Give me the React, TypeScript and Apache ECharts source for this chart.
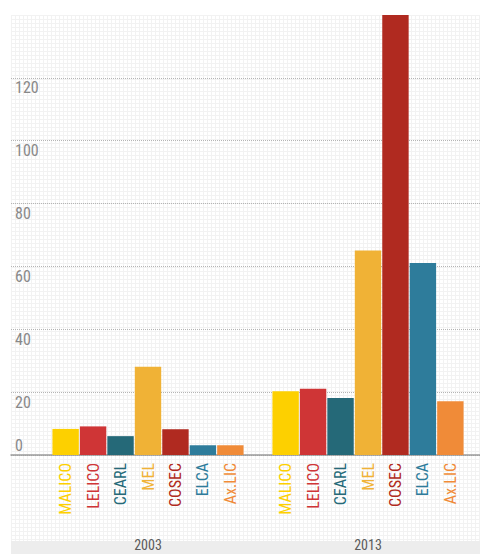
import React, { useEffect, useRef } from "react";
import * as echarts from "echarts";

const years = ["2003", "2013"];
const seriesNames = ["MALICO", "LELICO", "CEARL", "MEL", "COSEC", "ELCA", "Ax.LIC"];
const seriesColors = ["#FDD000", "#CF3536", "#256978", "#F0B236", "#B02A20", "#2E7C9B", "#F08B38"];
const malico = [8.3, 20.3];
const lelico = [9.1, 21.1];
const cearl = [6.0, 18.1];
const mel = [28.1, 65.1];
const cosec = [8.2, 140];
const elca = [3.1, 61.1];
const axlic = [3.1, 17.1];
const seriesValues = [malico, lelico, cearl, mel, cosec, elca, axlic];
const yTicksMax = 120;
const yMax = 140;

const FONT = '"Liberation Sans Narrow", "Roboto Condensed", "DejaVu Sans Condensed", sans-serif';

export default function App() {
  const ref = useRef<HTMLDivElement>(null);
  useEffect(() => {
    if (!ref.current) return;
    const chart = echarts.init(ref.current, null, { renderer: "svg" });
    const baseY = 455;
    const topY = 15;
    const unit = (baseY - topY) / yMax;
    const grid0Top = baseY - yTicksMax * unit;
    chart.setOption({
      animation: false,
      backgroundColor: "transparent",
      graphic: [
        {
          type: "rect",
          shape: { x: 11, y: 541, width: 469, height: 13 },
          style: { fill: "#ededed" },
          z: -1,
        },
      ],
      grid: [
        { left: 11, width: 469, top: grid0Top, height: baseY - grid0Top, outerBoundsMode: "none", containLabel: false },
        { left: 38, width: 440, top: topY, height: baseY - topY, outerBoundsMode: "none", containLabel: false },
      ],
      xAxis: [
        {
          type: "value",
          gridIndex: 0,
          min: 0,
          max: 1,
          axisLine: { show: true, onZero: false, lineStyle: { color: "#9a9a9a", width: 1.5 } },
          axisTick: { show: false },
          axisLabel: { show: false },
          splitLine: { show: false },
        },
        {
          type: "category",
          gridIndex: 1,
          data: years,
          axisLine: { show: false },
          axisTick: { show: false },
          axisLabel: { margin: 83, fontSize: 14, lineHeight: 14, color: "#5a5a5a", fontFamily: FONT },
        },
      ],
      yAxis: [
        {
          type: "value",
          gridIndex: 0,
          min: 0,
          max: yTicksMax,
          interval: 20,
          axisLine: { show: false },
          axisTick: { show: false },
          splitLine: { show: true, lineStyle: { color: "#b5b5b5", type: "dotted", width: 1 } },
          axisLabel: {
            inside: true,
            margin: 4,
            verticalAlign: "middle",
            showMaxLabel: true,
            showMinLabel: true,
            formatter: (v: number) => (v === 0 ? "{z|0}" : "{t|" + v + "}"),
            rich: {
              z: { fontSize: 16, color: "#888", fontFamily: FONT, padding: [0, 0, 19, 0], lineHeight: 19 },
              t: { fontSize: 16, color: "#888", fontFamily: FONT, padding: [20, 0, 0, 0], lineHeight: 19 },
            },
          },
        },
        {
          type: "value",
          gridIndex: 1,
          min: 0,
          max: yMax,
          show: false,
          splitLine: { show: false },
        },
      ],
      series: seriesNames.map((name, i) => ({
        type: "bar",
        name,
        xAxisIndex: 1,
        yAxisIndex: 1,
        data: seriesValues[i],
        barWidth: 26.4,
        barGap: "4%",
        itemStyle: { color: seriesColors[i] },
        label: {
          show: true,
          position: "bottom",
          distance: 8,
          rotate: 90,
          align: "right",
          verticalAlign: "middle",
          formatter: "{a}",
          color: seriesColors[i],
          fontSize: 16,
          fontFamily: FONT,
        },
      })),
    });
    return () => chart.dispose();
  }, []);
  return (
    <div style={{ position: "fixed", left: 0, top: 0, width: 480, height: 554, background: "#fff" }}>
      <div
        style={{
          position: "absolute",
          left: 11,
          top: 15,
          width: 469,
          height: 526,
          backgroundColor: "#fff",
          backgroundImage:
            "linear-gradient(#f2f2f2 1px, transparent 1px), linear-gradient(90deg, #f2f2f2 1px, transparent 1px)",
          backgroundSize: "4px 4px",
        }}
      />
      <div ref={ref} style={{ position: "absolute", left: 0, top: 0, width: 480, height: 554 }} />
    </div>
  );
}
